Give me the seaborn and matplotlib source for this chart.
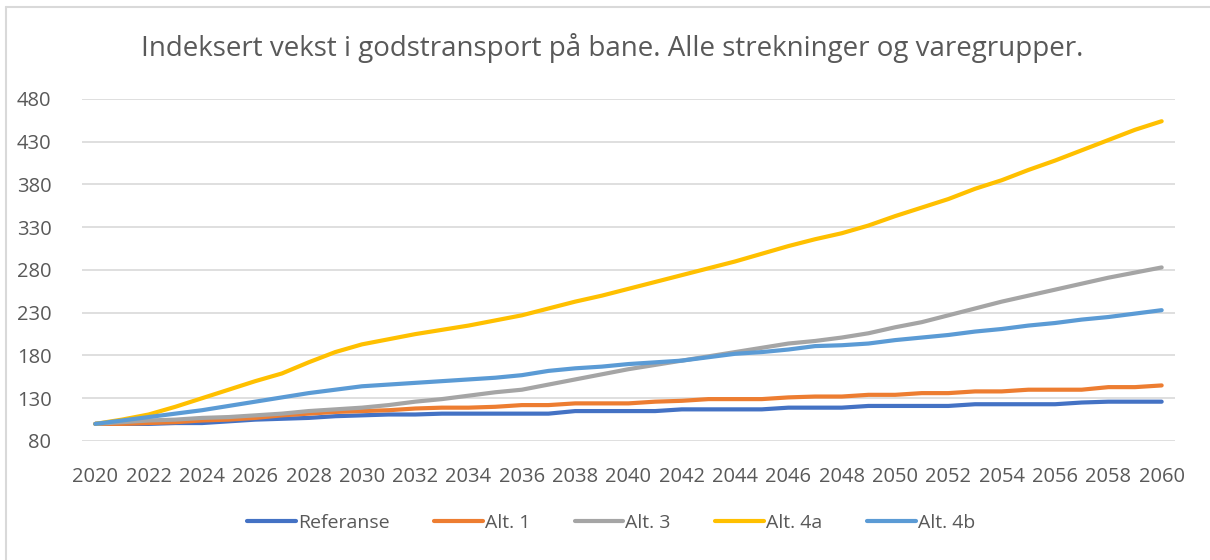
import matplotlib
matplotlib.use("Agg")
import matplotlib.pyplot as plt
import seaborn as sns
import pandas as pd

# Data (index, 2020 = 100)
years = list(range(2020, 2061))
referanse = [100, 100, 100, 101, 101, 103, 105, 106, 107, 109, 110, 111, 111, 112, 112, 112, 112, 112, 115, 115, 115,
             115, 117, 117, 117, 117, 119, 119, 119, 121, 121, 121, 121, 123, 123, 123, 123, 125, 126, 126, 126]
alt1 = [100, 100, 101, 102, 104, 105, 107, 110, 112, 114, 115, 116, 118, 119, 119, 120, 122, 122, 124, 124, 124,
        126, 127, 129, 129, 129, 131, 132, 132, 134, 134, 136, 136, 138, 138, 140, 140, 140, 143, 143, 145]
alt3 = [100, 102, 104, 105, 107, 108, 110, 112, 115, 117, 119, 122, 126, 129, 133, 137, 140, 146, 152, 158, 164,
        169, 174, 179, 184, 189, 194, 197, 201, 206, 213, 219, 227, 235, 243, 250, 257, 264, 271, 277, 283]
alt4a = [100, 105, 111, 120, 130, 140, 150, 159, 172, 184, 193, 199, 205, 210, 215, 221, 227, 235, 243, 250, 258,
         266, 274, 282, 290, 299, 308, 316, 323, 332, 343, 353, 363, 375, 385, 397, 408, 420, 432, 444, 454]
alt4b = [100, 104, 108, 112, 116, 121, 126, 131, 136, 140, 144, 146, 148, 150, 152, 154, 157, 162, 165, 167, 170,
         172, 174, 178, 182, 184, 187, 191, 192, 194, 198, 201, 204, 208, 211, 215, 218, 222, 225, 229, 233]

series_names = ["Referanse", "Alt. 1", "Alt. 3", "Alt. 4a", "Alt. 4b"]
series_values = [referanse, alt1, alt3, alt4a, alt4b]
colors = ["#4472C4", "#ED7D31", "#A5A5A5", "#FFC000", "#5B9BD5"]
y_ticks = [80, 130, 180, 230, 280, 330, 380, 430, 480]
x_ticks = list(range(2020, 2061, 2))

df = pd.concat([pd.DataFrame({"year": years, "value": v, "series": n})
                for n, v in zip(series_names, series_values)])

sns.set_style("white")
plt.rcParams["font.family"] = ["Open Sans", "DejaVu Sans"]
text_col = "#595959"

fig = plt.figure(figsize=(12.1, 5.6), dpi=100)
ax = fig.add_axes([82 / 1210, 1 - 441 / 560, (1175 - 82) / 1210, (441 - 99) / 560])

sns.lineplot(data=df, x="year", y="value", hue="series", hue_order=series_names,
             palette=colors, linewidth=3, ax=ax, legend=False, solid_capstyle="round")

ax.set_xlim(2019.5, 2060.5)
ax.set_ylim(80, 480)
ax.set_yticks(y_ticks)
ax.set_xticks(x_ticks)
ax.set_xticklabels([str(x) for x in x_ticks])
ax.grid(axis="y", color="#d9d9d9", linewidth=1.2)
ax.set_axisbelow(True)
for s in ax.spines.values():
    s.set_visible(False)
ax.tick_params(axis="both", length=0, labelsize=14.5, colors=text_col)
ax.tick_params(axis="y", pad=22)
ax.tick_params(axis="x", pad=19)
ax.set_xlabel("")
ax.set_ylabel("")

fig.text(612 / 1210, 1 - 48 / 560, "Indeksert vekst i godstransport på bane. Alle strekninger og varegrupper.",
         ha="center", va="center", fontsize=20, color=text_col)

handles = [plt.Line2D([], [], color=c, linewidth=3, solid_capstyle="round") for c in colors]
fig.legend(handles, series_names, loc="center", bbox_to_anchor=(611 / 1210, 1 - 523 / 560), ncol=5,
           frameon=False, fontsize=14, labelcolor=text_col, handlelength=2.5, handletextpad=0.1,
           columnspacing=2.3)

# light chart border (left and top as in the reference)
fig.add_artist(plt.Line2D([6 / 1210, 6 / 1210], [0, 1 - 7 / 560], color="#d9d9d9", linewidth=1.5))
fig.add_artist(plt.Line2D([6 / 1210, 1], [1 - 7 / 560, 1 - 7 / 560], color="#d9d9d9", linewidth=1.5))

fig.savefig("out.png", dpi=100)
